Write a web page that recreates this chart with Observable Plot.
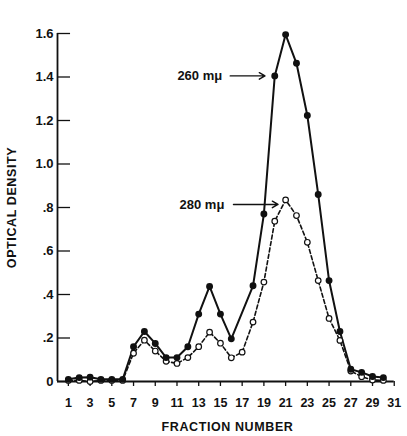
<!DOCTYPE html>
<html>
<head>
<meta charset="utf-8">
<script src="https://cdn.jsdelivr.net/npm/d3@7"></script>
<script src="https://cdn.jsdelivr.net/npm/@observablehq/plot@0.6"></script>
<style>
  html, body { margin: 0; padding: 0; background: #fff; }
  svg { font-family: "Liberation Sans", Arial, sans-serif; }
  svg g[aria-label="x-axis label"] text, svg g[aria-label="y-axis label"] text { font-size: 12.5px; letter-spacing: 0.6px; }
</style>
</head>
<body>
<div id="chart"></div>
<script>
// Fraction numbers
const fractions = [1,2,3,4,5,6,7,8,9,10,11,12,13,14,15,16,17,18,19,20,21,22,23,24,25,26,27,28,29,30];
// Optical density at 260 mμ (null = no point plotted)
const od260 = [0.01,0.018,0.02,0.01,0.01,0.01,0.16,0.23,0.175,0.11,0.11,0.16,0.31,0.437,0.31,0.196,null,0.44,0.77,1.405,1.595,1.463,1.223,0.86,0.464,0.23,0.056,0.042,0.023,0.018];
// Optical density at 280 mμ
const od280 = [0.005,0.005,0.0,0.005,0.005,0.005,0.13,0.19,0.14,0.093,0.083,0.11,0.16,0.227,0.176,0.109,0.135,0.273,0.457,0.737,0.835,0.763,0.64,0.464,0.29,0.189,0.048,0.022,0.007,0.005];
// Axis ticks
const xTicks = [1,3,5,7,9,11,13,15,17,19,21,23,25,27,29,31];
const yTicks = [0,0.2,0.4,0.6,0.8,1.0,1.2,1.4,1.6];
const yTickLabels = ["0",".2",".4",".6",".8","1.0","1.2","1.4","1.6"];
// Annotations
const labels = [
  {text: "260 mμ", x: 13.1, y: 1.405, ax1: 15.9, ax2: 19.1},
  {text: "280 mμ", x: 13.3, y: 0.814, ax1: 16.2, ax2: 20.3}
];

const d260 = fractions.map((f, i) => ({f, v: od260[i]})).filter(d => d.v != null);
const d280 = fractions.map((f, i) => ({f, v: od280[i]})).filter(d => d.v != null);

const chart = Plot.plot({
  width: 407,
  height: 436,
  marginLeft: 57,
  marginRight: 10,
  marginTop: 33,
  marginBottom: 55,
  style: {fontFamily: "Liberation Sans, Arial, sans-serif", background: "#fff", color: "#111"},
  x: {domain: [0, 31.3]},
  y: {domain: [0, 1.6]},
  marks: [
    Plot.axisY({ticks: yTicks, tickFormat: (d, i) => yTickLabels[i], tickSize: 0, tickPadding: 4,
      fontSize: 13, fontWeight: "bold", label: "OPTICAL DENSITY", labelAnchor: "center", labelOffset: 50, labelArrow: false}),
    Plot.axisX({ticks: xTicks, tickSize: 5, tickPadding: 12, fontSize: 12.5, fontWeight: "bold",
      strokeWidth: 1.3, label: "FRACTION NUMBER", labelAnchor: "center", labelOffset: 49, labelArrow: false}),
    Plot.ruleY(yTicks, {x1: 0, x2: 1.2, stroke: "#111", strokeWidth: 1.3}),
    Plot.ruleX([0], {y1: 0, y2: 1.6, stroke: "#111", strokeWidth: 1.8}),
    Plot.ruleY([0], {x1: 0, x2: 31, stroke: "#111", strokeWidth: 1.8}),
    Plot.line(d280, {x: "f", y: "v", stroke: "#111", strokeWidth: 1.6, strokeDasharray: "4,2.5"}),
    Plot.line(d260, {x: "f", y: "v", stroke: "#111", strokeWidth: 2}),
    Plot.dot(d280, {x: "f", y: "v", r: 2.8, fill: "#fff", stroke: "#111", strokeWidth: 1.2}),
    Plot.dot(d260, {x: "f", y: "v", r: 2.7, fill: "#111", stroke: "#111"}),
    Plot.text(labels, {x: "x", y: "y", text: "text", fontSize: 13, fontWeight: "bold", fill: "#111", style: "letter-spacing: 0.8px"}),
    Plot.arrow(labels, {x1: "ax1", x2: "ax2", y1: "y", y2: "y", stroke: "#111", strokeWidth: 1.4, headLength: 7})
  ]
});
document.getElementById("chart").append(chart);
</script>
</body>
</html>
